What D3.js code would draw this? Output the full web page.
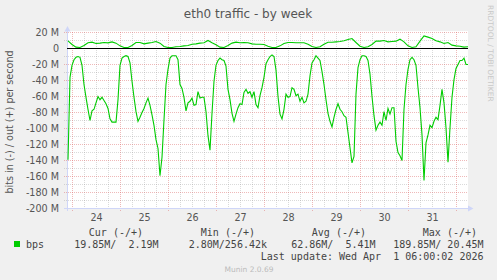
<!DOCTYPE html>
<html>
<head>
<meta charset="utf-8">
<script src="https://cdn.jsdelivr.net/npm/d3@7"></script>
<style>
    html, body { margin: 0; padding: 0; background: #f0f0f0; }
    svg { display: block; }
    text { font-family: "DejaVu Sans", sans-serif; fill: #555; }
    .mono { font-family: "DejaVu Sans Mono", monospace; white-space: pre; fill: #444; }
</style>
</head>
<body>
<svg id="chart" width="497" height="280"></svg>
<script>
;((d3) => {

    'use strict';

    // series start Mar 23 22:00 UTC, last update Apr 1 06:00
    const start_time = Date.UTC(2026, 2, 23, 22);
    const end_time = Date.UTC(2026, 3, 1, 6);
    const in_step_hours = 1;
    const out_step_hours = 2;

    // bits in, millions per second, drawn below zero
    const bps_in = [
        -139, -36, -21, -14, -11, -10, -11, -21, -45, -61,
        -76, -90, -78, -76, -68, -60, -64, -61, -65, -69,
        -75, -88, -92, -92, -92, -64, -21, -12, -10, -9,
        -10, -18, -41, -61, -79, -91, -86, -80, -75, -68,
        -62, -71, -83, -96, -114, -125, -159, -136, -89, -45,
        -26, -12, -9, -9, -9, -14, -45, -50, -61, -78,
        -68, -66, -62, -71, -70, -54, -62, -61, -61, -79,
        -109, -127, -81, -41, -21, -15, -12, -14, -15, -22,
        -51, -64, -81, -91, -82, -74, -69, -70, -55, -51,
        -56, -54, -61, -54, -70, -74, -59, -49, -36, -19,
        -14, -10, -8, -10, -27, -60, -82, -88, -76, -57,
        -61, -60, -49, -51, -59, -57, -66, -61, -68, -66,
        -57, -34, -18, -14, -9, -12, -15, -29, -45, -64,
        -81, -91, -98, -86, -76, -69, -76, -79, -84, -86,
        -105, -124, -143, -135, -57, -24, -14, -9, -9, -10,
        -15, -32, -60, -84, -102, -96, -92, -96, -79, -90,
        -75, -82, -74, -74, -116, -130, -134, -140, -76, -45,
        -26, -14, -11, -14, -21, -49, -74, -108, -165, -118,
        -108, -96, -99, -91, -86, -89, -71, -51, -68, -99,
        -142, -99, -61, -39, -25, -20, -15, -15, -12, -20,
        -20
    ];

    // bits out, millions per second
    const bps_out = [
        9.6, 5.0, 1.7, 1.2, 3.7, 7.1, 7.9, 6.2, 6.7, 7.5,
        7.1, 8.3, 6.7, 3.3, 1.2, 1.2, 3.7, 7.5, 7.5, 5.8,
        6.7, 7.5, 8.7, 6.7, 2.5, 1.2, 1.2, 2.1, 2.5, 3.3,
        3.7, 5.4, 5.8, 6.7, 7.1, 10.0, 7.1, 4.6, 1.7, 1.2,
        3.7, 6.7, 7.9, 7.1, 7.5, 7.1, 5.8, 5.4, 5.4, 5.0,
        2.9, 1.2, 1.2, 3.3, 6.2, 7.5, 7.5, 7.1, 7.1, 7.1,
        5.4, 2.5, 1.2, 2.1, 5.4, 7.9, 7.9, 8.3, 8.7, 9.6,
        11.2, 12.5, 7.5, 2.9, 1.2, 2.1, 5.0, 9.2, 9.2, 10.0,
        8.3, 8.7, 9.2, 11.7, 8.3, 3.3, 1.2, 2.1, 9.2, 15.8,
        14.2, 12.5, 9.6, 8.3, 6.2, 7.5, 4.2, 3.3, 2.9, 1.7,
        2.1
    ];

    const y_ticks = [20, 0, -20, -40, -60, -80, -100, -120, -140, -160, -180, -200];
    const day_ticks = [24, 25, 26, 27, 28, 29, 30, 31];

    const legend_headers = ['Cur (-/+)', 'Min (-/+)', 'Avg (-/+)', 'Max (-/+)'];
    const legend_values = ['19.85M/  2.19M', '2.80M/256.42k', '62.86M/  5.41M', '189.85M/ 20.45M'];
    const last_update = 'Last update: Wed Apr  1 06:00:02 2026';

    const HOUR = 3600e3;
    const COLOR_LINE = '#00cc00';
    const COLOR_AXIS = '#cfd6f8';
    const COLOR_GRID = 'rgba(150,150,150,0.35)';
    const COLOR_MGRID = 'rgba(220,100,100,0.45)';

    const svg = d3.select('#chart');

    const plot = { left: 67, right: 468, top: 31, bottom: 209 };

    const x = d3.scaleUtc().domain([start_time, end_time]).range([68, 468]);
    const y = d3.scaleLinear().domain([-200, 20]).range([208.5, 32.5]);

    svg.append('rect')
        .attr('x', plot.left).attr('y', plot.top)
        .attr('width', plot.right - plot.left).attr('height', plot.bottom - plot.top)
        .attr('fill', '#fff');

    // grid: minor every 10M / 6h, major every 20M / midnight
    const grid = svg.append('g').attr('shape-rendering', 'crispEdges');

    d3.range(-200, 21, 10).filter(v => v % 20 !== 0).forEach(v => {
        grid.append('line')
            .attr('x1', 64).attr('x2', plot.right)
            .attr('y1', y(v)).attr('y2', y(v))
            .attr('stroke', COLOR_GRID).attr('stroke-dasharray', '1,1');
    });

    d3.utcHour.every(6).range(new Date(start_time), new Date(end_time)).forEach(t => {
        let major = t.getUTCHours() === 0;
        grid.append('line')
            .attr('x1', x(t) + 0.5).attr('x2', x(t) + 0.5)
            .attr('y1', plot.top + 1).attr('y2', plot.bottom + (major ? 2 : 0))
            .attr('stroke', major ? COLOR_MGRID : COLOR_GRID)
            .attr('stroke-dasharray', '1,1');
    });

    y_ticks.filter(v => v !== 0).forEach(v => {
        grid.append('line')
            .attr('x1', 64).attr('x2', plot.right)
            .attr('y1', y(v)).attr('y2', y(v))
            .attr('stroke', COLOR_MGRID).attr('stroke-dasharray', '1,1');
    });

    // axes
    svg.append('line')
        .attr('x1', plot.left + 0.5).attr('x2', plot.left + 0.5)
        .attr('y1', plot.bottom + 2).attr('y2', 29)
        .attr('stroke', COLOR_AXIS);
    svg.append('path')
        .attr('d', `M${plot.left - 2.5},31.5L${plot.left + 3.5},31.5L${plot.left + 0.5},26Z`)
        .attr('fill', COLOR_AXIS);
    svg.append('line')
        .attr('x1', 64).attr('x2', 470)
        .attr('y1', y(-200)).attr('y2', y(-200))
        .attr('stroke', COLOR_AXIS);
    svg.append('path')
        .attr('d', `M468,${y(-200) - 3}L468,${y(-200) + 3}L473.5,${y(-200)}Z`)
        .attr('fill', COLOR_AXIS);

    const y_axis = svg.append('g')
        .attr('transform', `translate(${plot.left},0)`)
        .call(d3.axisLeft(y).tickValues(y_ticks).tickSize(0).tickPadding(8)
            .tickFormat(d => d === 0 ? '0' : `${d} M`));

    const x_axis = svg.append('g')
        .attr('transform', `translate(0,${plot.bottom})`)
        .call(d3.axisBottom(x)
            .tickValues(day_ticks.map(d => new Date(Date.UTC(2026, 2, d, 12))))
            .tickSize(0).tickPadding(5)
            .tickFormat(d3.utcFormat('%d')));

    [y_axis, x_axis].forEach(a => {
        a.select('.domain').remove();
        a.selectAll('text').style('font-family', '"DejaVu Sans", sans-serif').style('font-size', '9.6px').attr('fill', '#555');
    });

    // series
    const line_in = d3.line()
        .x((d, i) => x(start_time + i * in_step_hours * HOUR))
        .y(d => y(d));
    const line_out = d3.line()
        .x((d, i) => x(start_time + i * out_step_hours * HOUR))
        .y(d => y(d));

    svg.append('path').datum(bps_out)
        .attr('d', line_out).attr('fill', 'none')
        .attr('stroke', COLOR_LINE).attr('stroke-width', 1.1);
    svg.append('path').datum(bps_in)
        .attr('d', line_in).attr('fill', 'none')
        .attr('stroke', COLOR_LINE).attr('stroke-width', 1.1);

    svg.append('line')
        .attr('x1', plot.left).attr('x2', plot.right)
        .attr('y1', y(0)).attr('y2', y(0))
        .attr('stroke', '#000').attr('shape-rendering', 'crispEdges');

    // texts
    svg.append('text')
        .attr('x', 248).attr('y', 18.3)
        .attr('text-anchor', 'middle')
        .style('font-size', '12px')
        .text('eth0 traffic - by week');

    svg.append('text')
        .attr('transform', 'translate(12.5,122) rotate(-90)')
        .attr('text-anchor', 'middle')
        .style('font-size', '9.6px')
        .text('bits in (-) / out (+) per second');

    svg.append('text')
        .attr('transform', 'translate(487.5,5) rotate(90)')
        .style('font-size', '7.5px')
        .style('fill', '#c8c8c8')
        .text('RRDTOOL / TOBI OETIKER');

    // legend
    const legend = svg.append('g').style('font-size', '10px');

    legend.selectAll('.hdr').data(legend_headers).enter()
        .append('text').attr('class', 'mono hdr')
        .attr('x', (d, i) => [143, 255, 366, 477][i]).attr('y', 236)
        .attr('text-anchor', 'end')
        .text(d => d);

    legend.append('rect')
        .attr('x', 14).attr('y', 241).attr('width', 6).attr('height', 6)
        .attr('fill', COLOR_LINE);

    legend.append('text').attr('class', 'mono')
        .attr('x', 26).attr('y', 247.5)
        .text('bps');

    legend.selectAll('.val').data(legend_values).enter()
        .append('text').attr('class', 'mono val')
        .attr('x', (d, i) => [158.5, 267, 375.5, 483.5][i]).attr('y', 247.5)
        .attr('text-anchor', 'end')
        .text(d => d);

    legend.append('text').attr('class', 'mono')
        .attr('x', 483.5).attr('y', 259.5)
        .attr('text-anchor', 'end')
        .text(last_update);

    svg.append('text')
        .attr('x', 249).attr('y', 272)
        .attr('text-anchor', 'middle')
        .style('font-size', '7.5px').style('fill', '#bbb')
        .text('Munin 2.0.69');

})(window.d3);
</script>
</body>
</html>
